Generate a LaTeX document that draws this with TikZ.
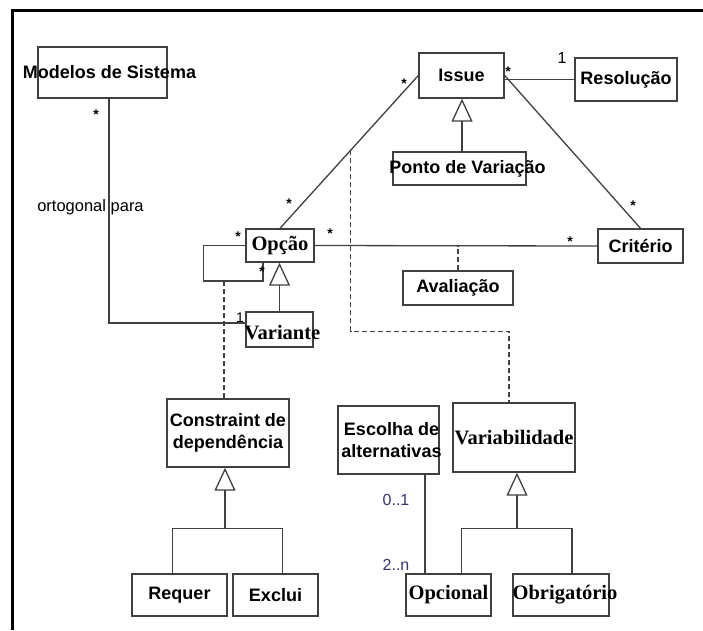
\documentclass[tikz,border=0pt]{standalone}
\usepackage{fontspec}
\setmainfont{Liberation Serif}
\setsansfont{Liberation Sans}
\usetikzlibrary{arrows.meta, positioning, calc}

\begin{document}
\begin{tikzpicture}[x=1pt, y=-1pt,
    box/.style 2 args={draw=black!75, line width=1.4pt, minimum width=#1, minimum height=#2, inner sep=0pt},
    sflab/.style={font=\sffamily\bfseries\fontsize{18}{22}\selectfont, align=center, inner sep=0pt},
    rmlab/.style={font=\rmfamily\bfseries\fontsize{20.5}{22}\selectfont, inner sep=0pt},
    assoc/.style={draw=black!75, line width=1.3pt},
    dep/.style={assoc, dash pattern=on 5pt off 3pt},
    gen/.style={assoc, -{Triangle[open, length=23pt, width=21pt, line width=1.3pt]}},
    mult/.style={font=\sffamily\bfseries\fontsize{14}{14}\selectfont, inner sep=0pt},
    card/.style={font=\sffamily\fontsize{16}{16}\selectfont, inner sep=0pt, text=black!70!blue!80}]
  \useasboundingbox (0,0) rectangle (703,630);
  \draw[line width=3pt] (703,10) -- (12,10) -- (12,630);

  % classes
  \node[box={129}{51}, label={[sflab,xshift=7pt]center:Modelos de Sistema}] (modelos) at (102.5,72.5) {};
  \node[box={85}{45}, label={[sflab]center:Issue}] (issue) at (461.5,75.5) {};
  \node[box={102}{43}, label={[sflab]center:Resolução}] (resol) at (626,79.5) {};
  \node[box={133}{33}, label={[sflab,xshift=8pt]center:Ponto de Variação}] (ponto) at (459.5,168.5) {};
  \node[box={68}{33}, label={[rmlab]center:Opção}] (opcao) at (280,245.5) {};
  \node[box={85}{34}, label={[sflab]center:Critério}] (criterio) at (640.5,246) {};
  \node[box={110}{34}, label={[sflab]center:Avaliação}] (avaliacao) at (458,288) {};
  \node[box={67}{35}, label={[rmlab,xshift=3pt,yshift=-3pt]center:Variante}] (variante) at (279.5,329.5) {};
  \node[box={122}{68}, label={[sflab]center:Constraint de\\dependência}] (constraint) at (228,433) {};
  \node[box={101}{68}, label={[sflab,xshift=3pt]center:Escolha de\\alternativas}] (escolha) at (388.5,440) {};
  \node[box={122}{69}, label={[rmlab]center:Variabilidade}] (variab) at (514,437.5) {};
  \node[box={95}{42}, label={[sflab]center:Requer}] (requer) at (179.5,595) {};
  \node[box={85}{42}, label={[sflab]center:Exclui}] (exclui) at (275.5,595) {};
  \node[box={85}{42}, label={[rmlab]center:Opcional}] (opcional) at (448.5,595) {};
  \node[box={96}{42}, label={[rmlab,xshift=4pt]center:Obrigatório}] (obrig) at (561,595) {};

  % associations
  \draw[assoc] (issue.east |- resol.west) -- (resol.west);
  \draw[assoc] (issue.west) -- coordinate[pos=0.49] (dvar) (opcao.north);
  \draw[assoc] (issue.east) -- (criterio.north);
  \draw[assoc] (opcao.east) -- (criterio.west);
  \draw[assoc] (opcao.west) -- ++(-42,0) -- ++(0,35.5) coordinate (lp) -| ([xshift=-17pt]opcao.south);
  \draw[assoc] ([xshift=6.5pt]modelos.south) |- ([yshift=6.5pt]variante.west);
  \draw[assoc] ([xshift=36.5pt]escolha.south) -- ([xshift=36.5pt]escolha.south |- opcional.north);

  % dependencies
  \draw[dep] (avaliacao.north) -- (avaliacao.north |- opcao.east);
  \draw[dep] ([xshift=-4pt]constraint.north) -- ([xshift=-4pt]constraint.north |- lp);
  \draw[dep] (dvar) |- ([yshift=71pt,xshift=-5pt]variab.north) -- ([xshift=-5pt]variab.north);

  % generalizations
  \draw[gen] ([xshift=2.5pt]ponto.north) -- ([xshift=2.5pt]ponto.north |- issue.south);
  \draw[gen] (variante.north) -- (variante.north |- opcao.south);
  \draw[assoc] ([xshift=-7pt]requer.north) |- ([yshift=-61pt]constraint.south) -| ([xshift=7pt]exclui.north);
  \draw[gen] ([yshift=-61pt,xshift=-3pt]constraint.south) -- ([xshift=-3pt]constraint.south);
  \draw[assoc] ([xshift=13pt]opcional.north) |- ([yshift=-56pt]variab.south) -| ([xshift=11pt]obrig.north);
  \draw[gen] ([yshift=-56pt,xshift=3pt]variab.south) -- ([xshift=3pt]variab.south);

  % labels
  \node[font=\sffamily\fontsize{16.5}{18}\selectfont, inner sep=0pt] (ortog) at (90.5,207) {ortogonal para};
  \node[mult] (m1) at (96,115) {*};
  \node[mult] (m2) at (404,84) {*};
  \node[mult] (m3) at (289,204) {*};
  \node[mult] (m4) at (508,72) {*};
  \node[mult] (m5) at (633,206) {*};
  \node[mult] (m6) at (330,234) {*};
  \node[mult] (m7) at (570,242) {*};
  \node[mult] (m8) at (238,237) {*};
  \node[mult] (m9) at (262,272) {*};
  \node[font=\sffamily\fontsize{16}{16}\selectfont, inner sep=0pt] (n1) at (562,58) {1};
  \node[font=\sffamily\fontsize{14}{14}\selectfont, inner sep=0pt] (n2) at (240,318) {1};
  \node[card] (c1) at (396,500) {0..1};
  \node[card] (c2) at (396,565) {2..n};
\end{tikzpicture}
\end{document}
